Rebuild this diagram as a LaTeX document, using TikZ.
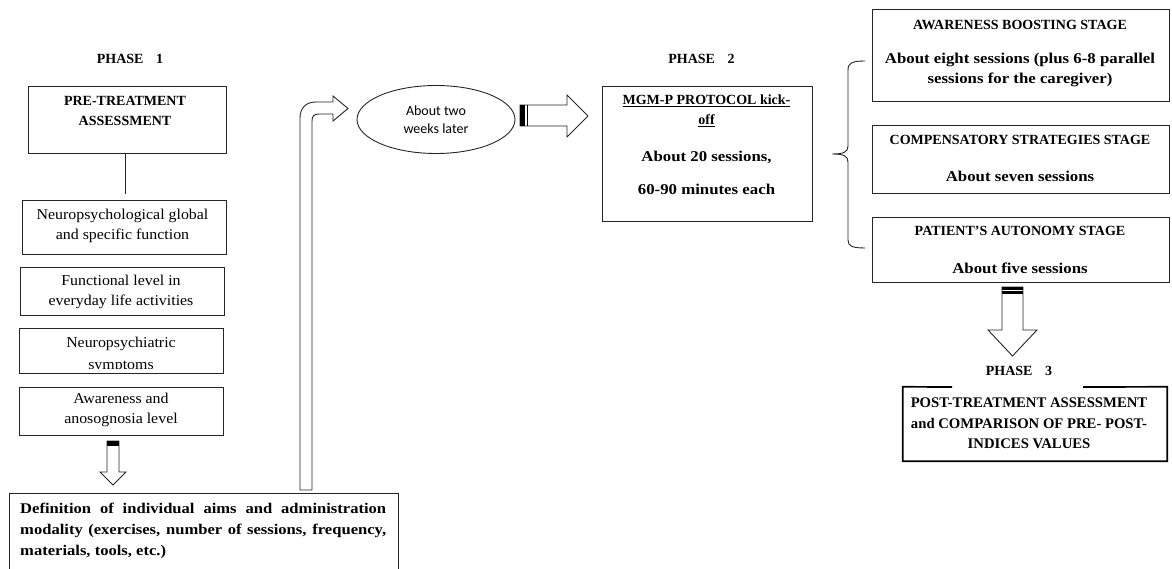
\documentclass[tikz,border=0pt]{standalone}
\usepackage{fontspec}
\setmainfont{Liberation Serif}
\newfontfamily\bw[FakeStretch=1.12]{Liberation Serif}
\newfontfamily\rw[FakeStretch=1.06]{Liberation Serif}
\newfontfamily\calib{Carlito}
\usetikzlibrary{shapes.geometric}
\begin{document}
\begin{tikzpicture}[x=1pt,y=-1pt,
 box/.style={draw=black!85, line width=0.9pt, inner sep=0pt, rectangle},
 btxt/.style={font=\fontsize{14}{20}\selectfont\bfseries, align=center, inner sep=0pt},
 bltxt/.style={font=\bw\fontsize{15}{20}\selectfont\bfseries, align=center, inner sep=0pt},
 rtxt/.style={font=\rw\fontsize{15}{20}\selectfont, align=center, inner sep=0pt},
 blockarrow/.style={draw=black!85, line width=0.9pt, fill=white, line join=miter},
 conn/.style={draw=black!85, line width=0.9pt},
]
\useasboundingbox (0,0) rectangle (1172,569);

% ---------------- PHASE 1 ----------------
\node[btxt] (ph1) at (130,59) {PHASE\hspace{0.9em}1};
\node[box, minimum width=198pt, minimum height=67pt] (pre) at (127,119.5) {};
\node[btxt] (pretxt) at (125,111) {PRE-TREATMENT\\ASSESSMENT};

\node[box, minimum width=204pt, minimum height=54pt] (n1) at (124,227) {};
\node[rtxt] (n1t) at (122.5,226) {Neuropsychological global\\and specific function};

\node[box, minimum width=204pt, minimum height=48pt] (n2) at (122,291) {};
\node[rtxt] (n2t) at (121,292) {Functional level in\\everyday life activities};

\node[box, minimum width=204pt, minimum height=45pt] (n3) at (121,350.5) {};
\begin{scope}
 \clip (n3.north west) rectangle (223,368.3);
 \node[rtxt, anchor=base] (n3a) at (121,347) {Neuropsychiatric};
 \node[rtxt, anchor=base] (n3b) at (121,369) {symptoms};
\end{scope}

\node[box, minimum width=204pt, minimum height=48pt] (n4) at (121,411) {};
\node[rtxt] (n4t) at (121,410) {Awareness and\\anosognosia level};

\draw[conn, shorten >=6pt] (pre.south -| 125,0) -- (n1.north -| 125,0);

% down arrow to definition box
\draw[blockarrow] (107,441) -- (119,441) -- (119,472) -- (126,472) -- (113,485) -- (100,472) -- (107,472) -- cycle;
\fill[black] (107,441) rectangle (119,446);

\node[box, minimum width=389pt, minimum height=90pt, anchor=north west] (def) at (9,493) {};
\node[font=\bw\fontsize{14.8}{21}\selectfont\bfseries, align=left, inner sep=0pt, anchor=base west] (deft) at (20,555)
 {\makebox[366pt][s]{Definition of individual aims and administration}\\
  \makebox[366pt][s]{modality (exercises, number of sessions, frequency,}\\
  materials, tools, etc.)};

% bent arrow up to the ellipse
\draw[blockarrow] (300,490) -- (300,118) .. controls (300,108) and (306,102) .. (316,102) -- (333,102) -- (333,96) -- (348,108.5) -- (333,121) -- (333,114) -- (319,114) .. controls (314,114) and (312,116) .. (312,121) -- (312,490) -- cycle;

% ellipse
\node[draw=black!85, line width=0.9pt, ellipse, minimum width=158pt, minimum height=68pt, inner sep=0pt] (ell) at (436,119.5) {};
\node[font=\calib\fontsize{14}{18}\selectfont, align=center, inner sep=0pt] (ellt) at (436,120) {About two\\weeks later};

% right arrow
\draw[blockarrow] (520,105) -- (567,105) -- (567,95) -- (588,116) -- (567,137) -- (567,126) -- (520,126) -- cycle;
\fill[black] (520,105) rectangle (525,126);
\draw[line width=1pt] (527.5,105) -- (527.5,126);

% ---------------- PHASE 2 ----------------
\node[btxt] (ph2) at (701.5,59) {PHASE\hspace{0.9em}2};
\node[box, minimum width=210pt, minimum height=135pt] (mgm) at (707,153.5) {};
\node[btxt] (mgmt) at (706.5,111) {\underline{MGM-P PROTOCOL kick-}\\\underline{off}};
\node[bltxt] (mgm2) at (706.5,157) {About 20 sessions,};
\node[bltxt] (mgm3) at (706.5,189) {60-90 minutes each};

% brace
\coordinate (bt) at (865,61);
\coordinate (bm) at (832,154);
\coordinate (bb) at (865,248);
\draw[conn] (bt) .. controls (852,61) and (848,63) .. (848,70) -- (848,146) .. controls (848,152) and (844,154) .. (bm) .. controls (844,154) and (848,156) .. (848,162) -- (848,240) .. controls (848,246) and (852,248) .. (bb);

% stages
\node[box, minimum width=297pt, minimum height=92pt] (sA) at (1020.5,55) {};
\node[btxt] (sAt) at (1020,25) {AWARENESS BOOSTING STAGE};
\node[bltxt] (sAs) at (1020,70) {About eight sessions (plus 6-8 parallel\\sessions for the caregiver)};

\node[box, minimum width=297pt, minimum height=68pt] (sB) at (1020.5,159) {};
\node[btxt] (sBt) at (1020,140) {COMPENSATORY STRATEGIES STAGE};
\node[bltxt] (sBs) at (1020,176) {About seven sessions};

\node[box, minimum width=297pt, minimum height=65pt] (sC) at (1020.5,249.5) {};
\node[btxt] (sCt) at (1020,231) {PATIENT'S AUTONOMY STAGE};
\node[bltxt] (sCs) at (1020,268) {About five sessions};

% down arrow to phase 3
\draw[blockarrow] (1002,287) -- (1023,287) -- (1023,330) -- (1037,330) -- (1012.5,356) -- (988,330) -- (1002,330) -- cycle;
\fill[black] (1002,287) rectangle (1023,289.5);
\fill[black] (1002,291.3) rectangle (1023,293.5);

% ---------------- PHASE 3 ----------------
\node[btxt] (ph3) at (1019,371) {PHASE\hspace{0.9em}3};
\node[minimum width=264pt, minimum height=74pt, inner sep=0pt] (post) at (1035,424) {};
\draw[draw=black, line width=1.7pt] (952,387) -- (post.north west) -- (post.south west) -- (post.south east) -- (post.north east) -- (1083,387);
\node[btxt, font=\fontsize{14.7}{20.5}\selectfont\bfseries] (postt) at (1029,423.5) {POST-TREATMENT ASSESSMENT\\and COMPARISON OF PRE- POST-\\INDICES VALUES};
\end{tikzpicture}
\end{document}
